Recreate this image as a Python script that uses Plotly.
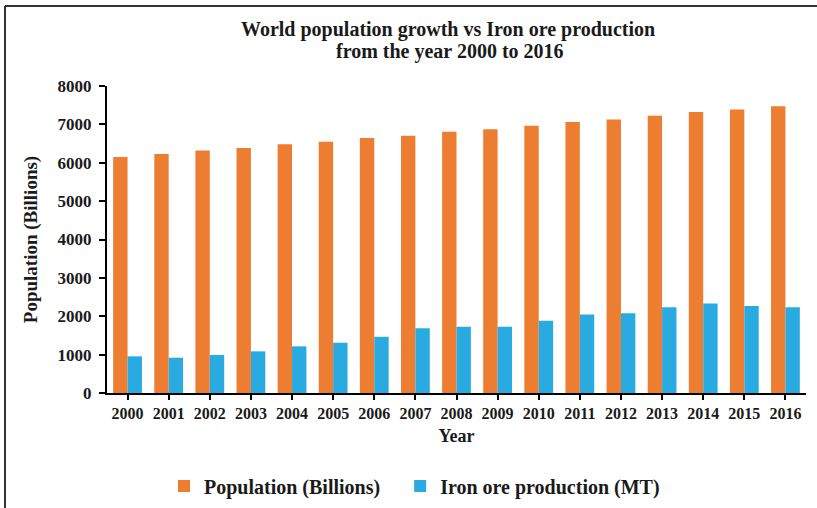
import plotly.graph_objects as go

years = [str(y) for y in range(2000, 2017)]
population = [6150, 6228, 6320, 6385, 6480, 6550, 6645, 6705, 6805, 6870, 6965, 7060, 7130, 7225, 7320, 7385, 7475]
iron_ore = [955, 920, 990, 1085, 1215, 1310, 1465, 1690, 1725, 1725, 1880, 2045, 2080, 2235, 2330, 2270, 2235]

FONT = "Liberation Serif"
ORANGE = "#ED7D31"
BLUE = "#29ABE2"

W, H = 817, 508
L, R, T, B = 107, 11, 86, 115
pw, ph = W - L - R, H - T - B

def px(x):
    return (x - L) / pw

def py(y):
    return (H - B - y) / ph

fig = go.Figure()
fig.add_trace(go.Bar(x=years, y=population, name="<b>Population (Billions)</b>\u00a0\u00a0\u00a0",
                     marker=dict(color=ORANGE, line=dict(width=0))))
fig.add_trace(go.Bar(x=years, y=iron_ore, name="<b>Iron ore production (MT)</b>",
                     marker=dict(color=BLUE, line=dict(width=0))))

fig.update_layout(
    width=W, height=H,
    margin=dict(l=L, r=R, t=T, b=B, autoexpand=False),
    paper_bgcolor="white", plot_bgcolor="white",
    barmode="group", bargap=0.30, bargroupgap=0,
    font=dict(family=FONT, color="#1a1a1a"),
    showlegend=True,
    legend=dict(orientation="h", x=px(164), y=py(486), xanchor="left", yanchor="middle",
                font=dict(family=FONT, size=20, color="#1a1a1a"),
                itemwidth=30, bgcolor="rgba(0,0,0,0)", traceorder="normal"),
    xaxis=dict(
        type="category",
        showline=True, linecolor="black", linewidth=2,
        ticks="outside", ticklen=5, tickwidth=2, tickcolor="black",
        tickfont=dict(family=FONT, size=16, color="#1a1a1a"),
        title=dict(text="<b>Year</b>", font=dict(family=FONT, size=18, color="#1a1a1a"), standoff=8),
        showgrid=False, zeroline=False,
        tickprefix="<b>", ticksuffix="</b>",
    ),
    yaxis=dict(
        range=[0, 8000], dtick=1000,
        showline=True, linecolor="black", linewidth=2,
        ticks="outside", ticklen=6, tickwidth=2, tickcolor="black",
        tickfont=dict(family=FONT, size=17, color="#1a1a1a"),
        ticklabelstandoff=4,
        tickprefix="<b>", ticksuffix="</b>",
        title=dict(text="<b>Population (Billions)</b>", font=dict(family=FONT, size=19, color="#1a1a1a"), standoff=15),
        showgrid=False, zeroline=False,
    ),
)

fig.add_annotation(text="<b>World population growth vs Iron ore production</b>",
                   xref="paper", yref="paper", x=px(448), y=py(30), showarrow=False,
                   xanchor="center", yanchor="middle",
                   font=dict(family=FONT, size=20, color="#1a1a1a"))
fig.add_annotation(text="<b>from the year 2000 to 2016</b>",
                   xref="paper", yref="paper", x=px(450), y=py(52), showarrow=False,
                   xanchor="center", yanchor="middle",
                   font=dict(family=FONT, size=20, color="#1a1a1a"))

# outer frame (top and left edges visible in the reference)
fig.add_shape(type="line", xref="paper", yref="paper", x0=px(5), x1=px(820), y0=py(6), y1=py(6),
              line=dict(color="#333333", width=2))
fig.add_shape(type="line", xref="paper", yref="paper", x0=px(5), x1=px(5), y0=py(6), y1=py(512),
              line=dict(color="#333333", width=2))

fig.write_html("out.html")
